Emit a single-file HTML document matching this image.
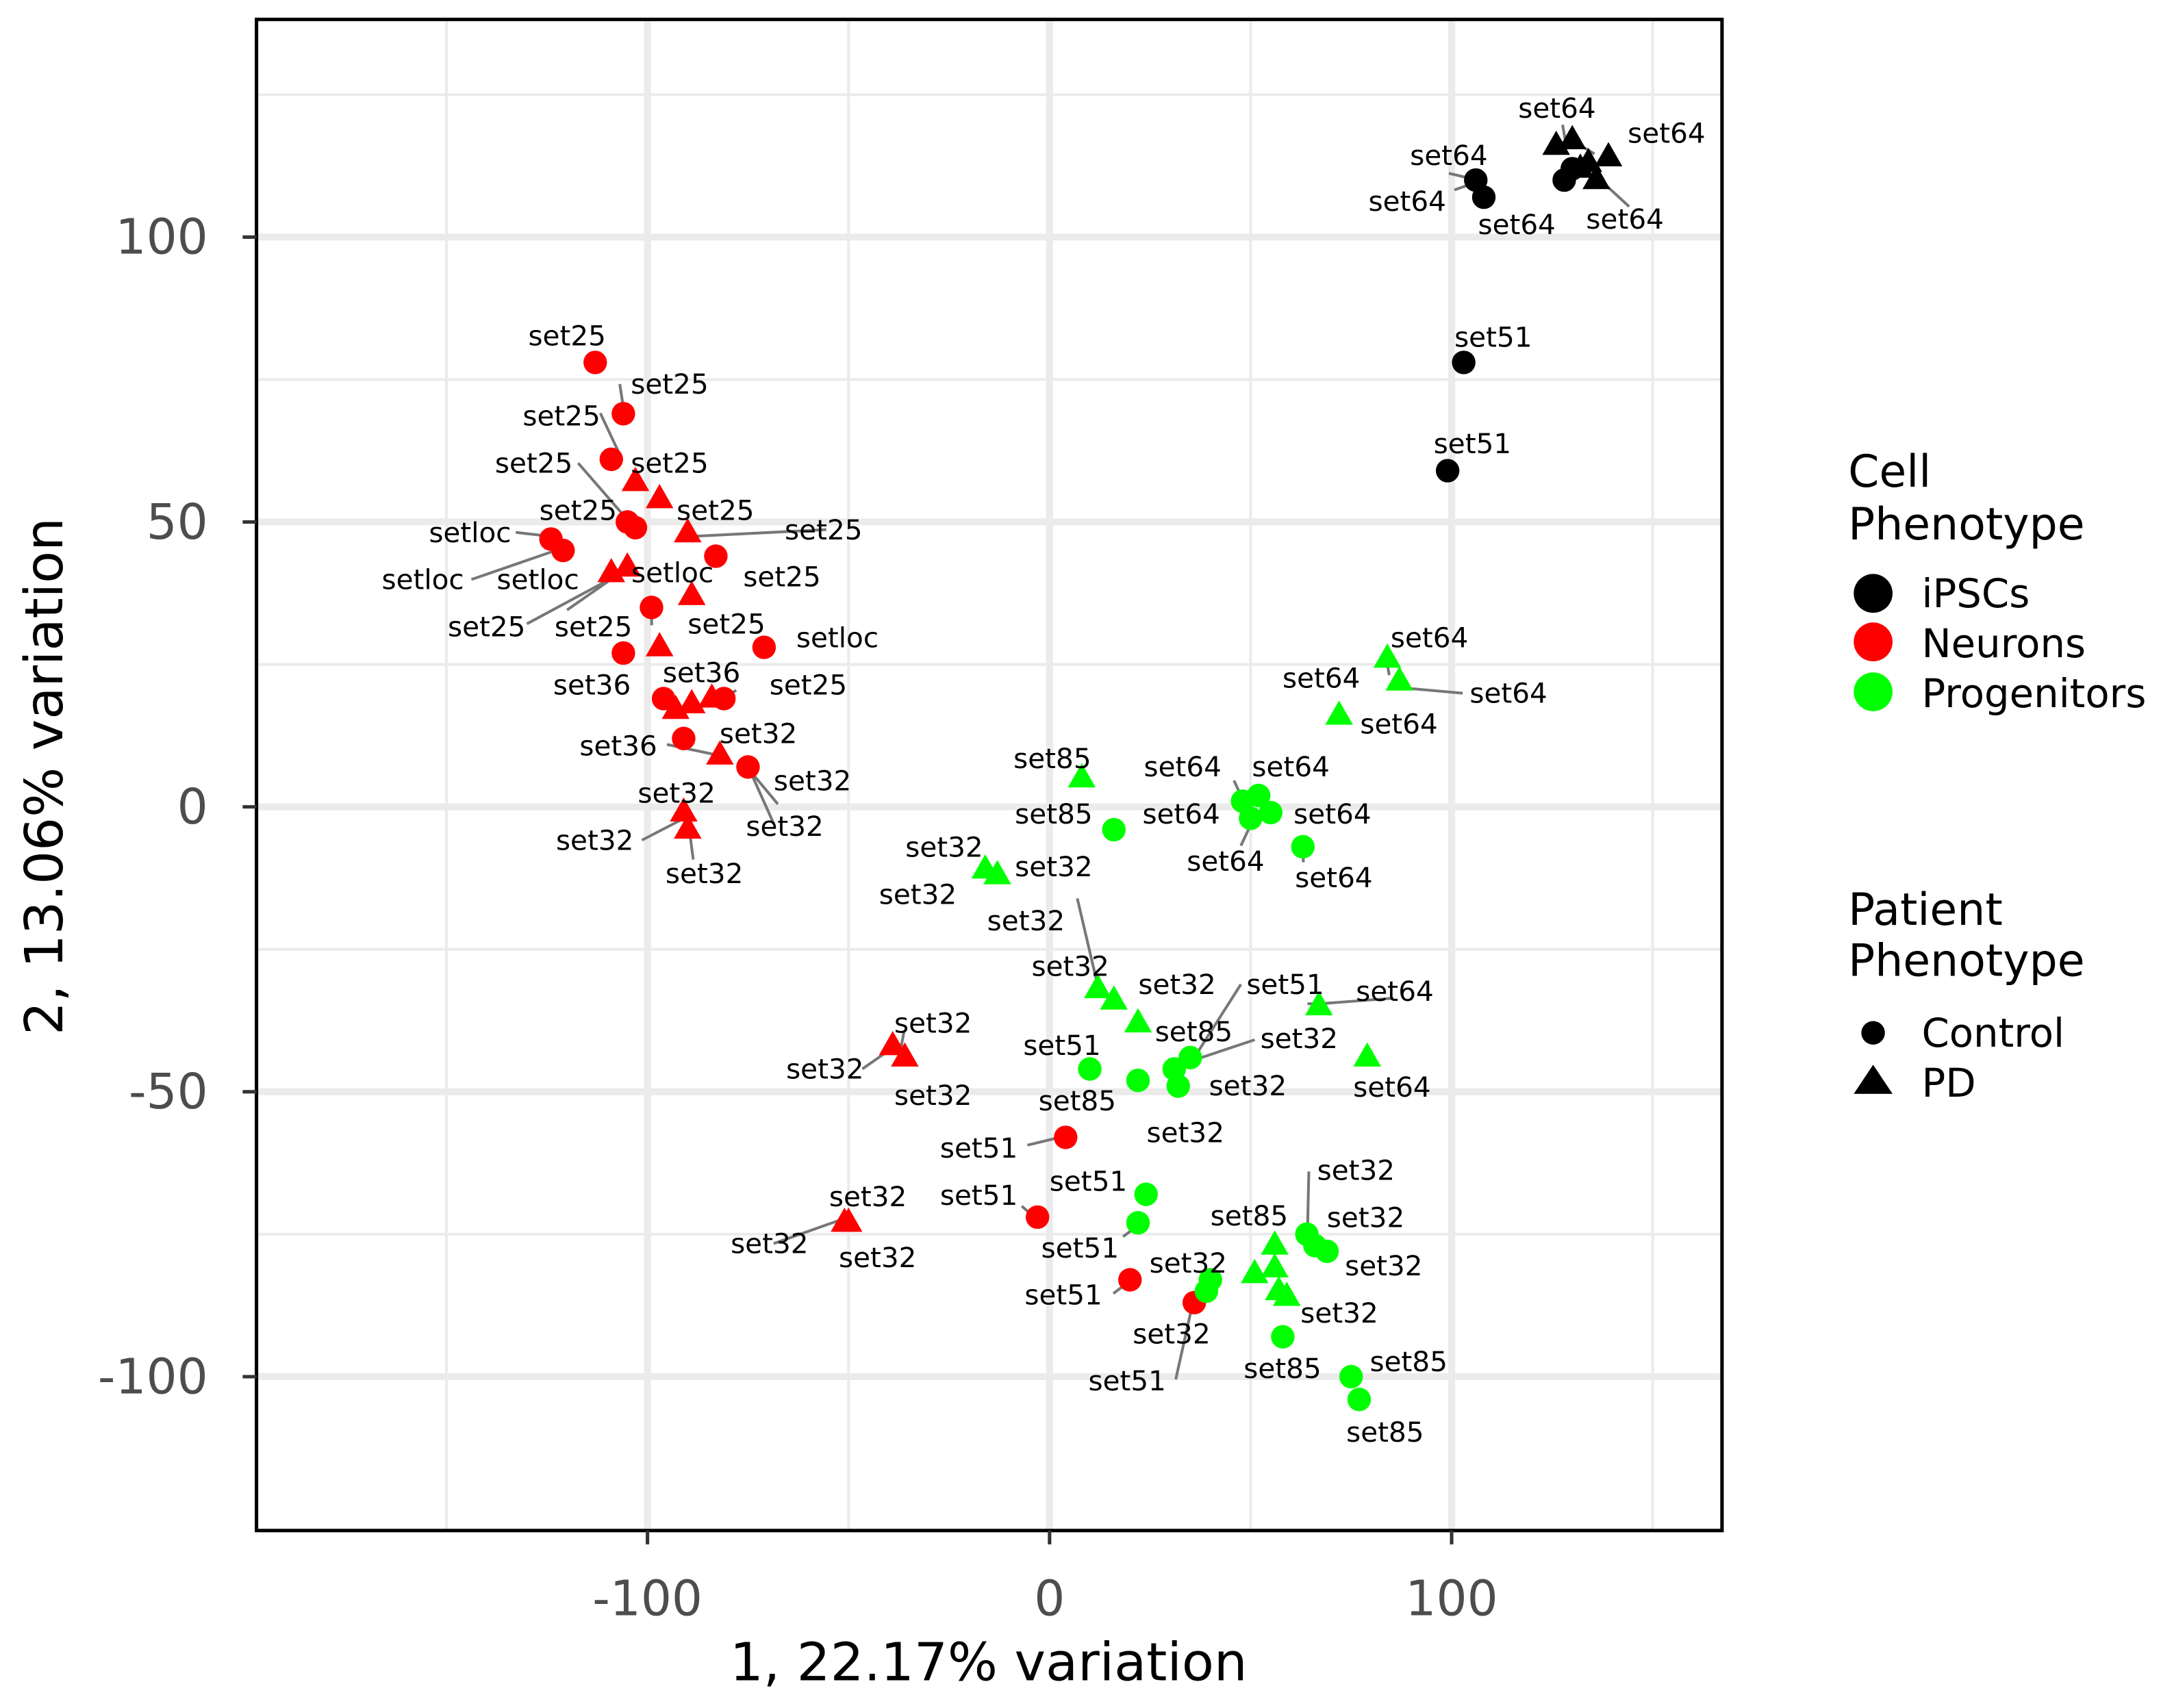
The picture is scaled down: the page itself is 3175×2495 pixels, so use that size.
<!DOCTYPE html>
<html><head><meta charset="utf-8">
<style>
html,body{margin:0;padding:0;background:#fff;}
svg{display:block;font-family:"DejaVu Sans","Liberation Sans",sans-serif;}
</style></head>
<body>
<svg id="chart" width="3175" height="2495" viewBox="0 0 1568 1232" preserveAspectRatio="none" xmlns="http://www.w3.org/2000/svg">
<rect x="0" y="0" width="1568" height="1232" fill="#fff"/>
<g id="grid"></g>
<g id="segs" stroke="#777" stroke-width="2"></g>
<g id="marks"></g>
<g id="labels" font-size="20" fill="#000" text-anchor="middle"></g>
<rect x="185" y="14" width="1057" height="1090" fill="none" stroke="#000" stroke-width="2.5"/>
<g id="axes"></g>
<text x="713" y="1212" font-size="38" text-anchor="middle" fill="#000">1, 22.17% variation</text>
<text x="0" y="0" font-size="38" text-anchor="middle" fill="#000" transform="translate(45,560) rotate(-90)">2, 13.06% variation</text>
<g>
<text x="1333" y="351" font-size="32">Cell</text>
<text x="1333" y="389" font-size="32">Phenotype</text>
<circle cx="1351" cy="428" r="14" fill="#000"/>
<circle cx="1351" cy="463" r="14" fill="#ff0000"/>
<circle cx="1351" cy="499" r="14" fill="#00ff00"/>
<text x="1386" y="438" font-size="28.5">iPSCs</text>
<text x="1386" y="474" font-size="28.5">Neurons</text>
<text x="1386" y="510" font-size="28.5">Progenitors</text>
</g>
<g>
<text x="1333" y="667" font-size="32">Patient</text>
<text x="1333" y="704" font-size="32">Phenotype</text>
<circle cx="1351" cy="745" r="8.5" fill="#000"/>
<polygon points="1351,768 1365,789 1337,789" fill="#000"/>
<text x="1386" y="755" font-size="28.5">Control</text>
<text x="1386" y="791" font-size="28.5">PD</text>
</g>
</svg>
<script>
// ---- data ----
const ipscCtrlX = [106,108,128,130,103,99];
const ipscCtrlY = [110,107,110,112,78,59];
const ipscPdX = [126,130,134,139,132,136];
const ipscPdY = [116,117,113,114,112,110];
const neuCtrlX = [-113,-106,-109,-105,-103,-124,-121,-83,-99,-106,-71,-96,-81,-91,-75,4,-3,20,36];
const neuCtrlY = [78,69,61,50,49,47,45,44,35,27,28,19,19,12,7,-58,-72,-83,-87];
const neuPdX = [-103,-97,-90,-109,-105,-89,-97,-93,-89,-84,-82,-91,-90,-39,-36,-51,-50];
const neuPdY = [57,54,48,41,42,37,28,17,18,19,9,-1,-4,-42,-44,-73,-73];
const proCtrlX = [16,48,52,50,55,63,10,22,31,32,35,24,22,64,66,69,39,40,58,75,77];
const proCtrlY = [-4,1,2,-2,-1,-7,-46,-48,-46,-49,-44,-68,-73,-75,-77,-78,-85,-83,-93,-100,-104];
const proPdX = [8,-16,-13,84,87,72,12,16,22,67,79,56,56,51,57,59];
const proPdY = [5,-11,-12,26,22,16,-32,-34,-38,-35,-44,-77,-81,-82,-85,-86];
const xTicks = [-100,0,100];
const xTickLabels = ["-100","0","100"];
const yTicks = [100,50,0,-50,-100];
const yTickLabels = ["100","50","0","-50","-100"];
const xMinor = [-150,-50,50,150];
const yMinor = [125,75,25,-25,-75];
// ---- scales ----
function sx(v){return 757 + v*2.9;}
function sy(v){return 582 - v*4.11;}
const NS="http://www.w3.org/2000/svg";
function mk(tag,attrs,parent){const e=document.createElementNS(NS,tag);for(const k in attrs)e.setAttribute(k,attrs[k]);parent.appendChild(e);return e;}
const grid=document.getElementById('grid');
xMinor.forEach(v=>{const l=mk('line',{x1:sx(v),x2:sx(v),y1:14,y2:1104,stroke:'#ebebeb','stroke-width':2},grid);

});
yMinor.forEach(v=>{const l=mk('line',{x1:185,x2:1242,y1:sy(v),y2:sy(v),stroke:'#ebebeb','stroke-width':2},grid);

});
xTicks.forEach(v=>{const l=mk('line',{x1:sx(v),x2:sx(v),y1:14,y2:1104,stroke:'#ebebeb','stroke-width':5},grid);

});
yTicks.forEach(v=>{const l=mk('line',{x1:185,x2:1242,y1:sy(v),y2:sy(v),stroke:'#ebebeb','stroke-width':5},grid);

});
const axes=document.getElementById('axes');
xTicks.forEach((v,i)=>{const t=mk('line',{x1:sx(v),x2:sx(v),y1:1104,y2:1114,stroke:'#333','stroke-width':2.5},axes);


const tx=mk('text',{x:sx(v),y:1165,'font-size':35,'text-anchor':'middle',fill:'#4d4d4d'},axes);tx.textContent=xTickLabels[i];

});
yTicks.forEach((v,i)=>{const t=mk('line',{x1:175,x2:185,y1:sy(v),y2:sy(v),stroke:'#333','stroke-width':2.5},axes);


const tx=mk('text',{x:150,y:sy(v)+12,'font-size':35,'text-anchor':'end',fill:'#4d4d4d'},axes);tx.textContent=yTickLabels[i];

});
const marks=document.getElementById('marks');
function circles(xs,ys,col,name){xs.forEach((x,i)=>{const c=mk('circle',{cx:sx(x),cy:sy(ys[i]),r:8.5,fill:col},marks);

});}
function tris(xs,ys,col,name){xs.forEach((x,i)=>{const X=sx(x),Y=sy(ys[i]);const p=mk('polygon',{points:`${X},${Y-11} ${X+10},${Y+6.5} ${X-10},${Y+6.5}`,fill:col},marks);

});}
const segList=[[596,382,497,387],[340,418,398,398],[380,450,445,415],[409,440,452,410],[481,537,519,545],[561,580,541,556],[777,648,792,712],[895,710,860,765],[905,750,860,765],[848,995,860,941],[944,845,943,890],[1055,500,1010,496],[943,724,952,724],[372,384,398,387],[433,298,448,330],[447,277,449,290],[417,334,450,372],[470,451,470,438],[531,498,524,502],[558,594,541,556],[463,606,492,591],[500,620,497,597],[622,771,645,755],[652,744,650,755],[558,897,606,880],[1049,137,1066,131],[1045,125,1066,130],[1127,90,1130,107],[1175,149,1150,126],[1002,487,1000,476],[890,563,896,576],[940,622,940,612],[895,610,902,595],[803,933,815,924],[741,826,766,820],[737,870,747,879],[810,892,822,883],[1140,105,1150,111],[1005,720,952,724]];
const segs=document.getElementById('segs');
segList.forEach(s=>{const l=mk('line',{x1:s[0],y1:s[1],x2:s[2],y2:s[3]},segs);

});
circles(ipscCtrlX,ipscCtrlY,'#000','ipsc-control-point');
tris(ipscPdX,ipscPdY,'#000','ipsc-pd-point');
circles(neuCtrlX,neuCtrlY,'#ff0000','neuron-control-point');
tris(neuPdX,neuPdY,'#ff0000','neuron-pd-point');
circles(proCtrlX,proCtrlY,'#00ff00','progenitor-control-point');
tris(proPdX,proPdY,'#00ff00','progenitor-pd-point');
const labList=[["set64",1123,78],["set64",1202,96],["set64",1045,112],["set64",1015,145],["set64",1094,162],["set64",1172,158],["set51",1077,243],["set51",1062,320],
["set25",409,242],["set25",483,277],["set25",405,300],["set25",385,334],["set25",483,334],["set25",417,368],["set25",516,368],["setloc",339,384],["set25",594,382],["setloc",305,418],["setloc",388,418],["setloc",485,413],["set25",564,416],["set25",351,452],["set25",428,452],["set25",524,450],["setloc",604,460],["set36",427,494],["set36",506,485],["set25",583,494],["set36",446,538],["set32",547,529],["set32",586,563],["set32",488,572],["set32",429,606],["set32",566,596],["set32",508,630],
["set85",759,547],["set85",760,587],["set64",853,553],["set64",931,553],["set64",852,587],["set64",961,587],["set64",884,621],["set64",962,633],["set64",1031,460],["set64",953,489],["set64",1088,500],["set64",1009,522],
["set32",681,611],["set32",760,625],["set32",662,645],["set32",740,664],["set32",772,697],["set32",849,710],["set51",927,710],["set64",1006,715],["set85",861,744],["set32",937,749],["set51",766,754],["set32",900,783],["set85",777,794],["set32",855,817],["set64",1004,784],
["set32",673,738],["set32",595,771],["set32",673,790],["set51",706,828],["set51",706,862],["set51",785,852],["set32",626,863],["set32",555,897],["set32",633,907],["set51",779,900],["set85",901,877],["set32",978,844],["set32",985,878],["set32",857,911],["set32",998,913],["set51",767,934],["set32",966,947],["set32",845,962],["set51",813,996],["set85",925,987],["set85",1016,982],["set85",999,1033]];
const labels=document.getElementById('labels');
labList.forEach(l=>{const t=mk('text',{x:l[1],y:l[2]+7},labels);t.textContent=l[0];

});
</script>
</body></html>
